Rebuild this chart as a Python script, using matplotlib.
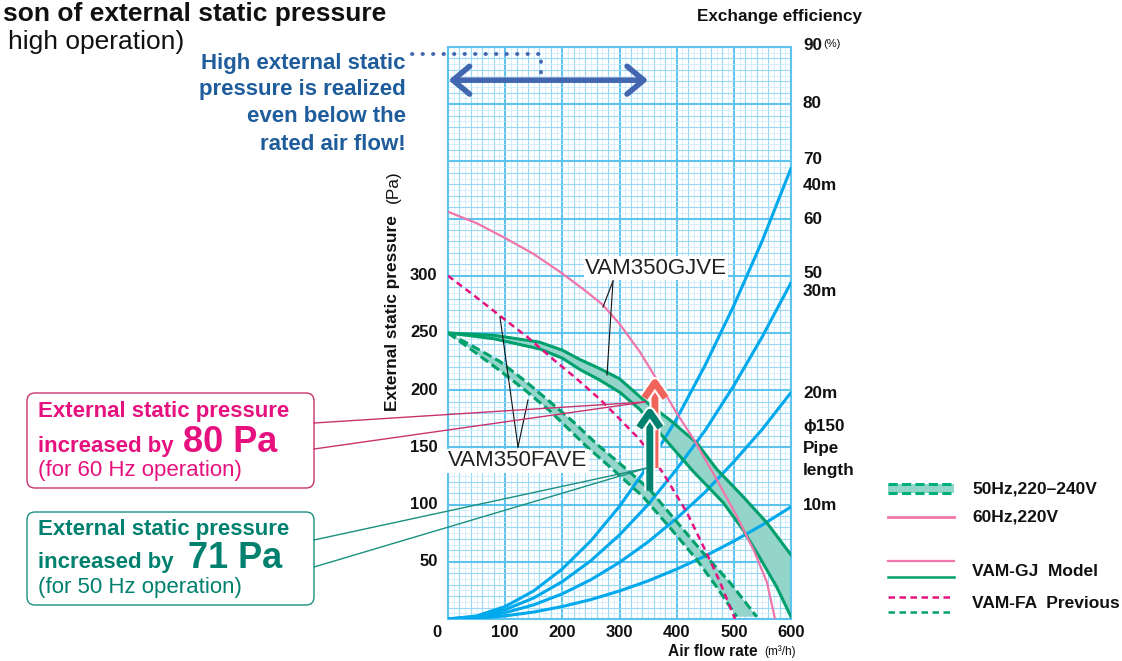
import matplotlib
matplotlib.use("Agg")
import matplotlib.pyplot as plt
from matplotlib.patches import FancyArrowPatch, FancyBboxPatch, Rectangle
import matplotlib.patheffects as pe

plt.rcParams['font.family'] = ['Liberation Sans', 'DejaVu Sans']

# ---- data -----------------------------------------------------------------
flow_ticks = [100, 200, 300, 400, 500, 600]
pressure_ticks = [50, 100, 150, 200, 250, 300]

# phi150 pipe resistance curves
pipe_q = [0, 50, 100, 150, 200, 250, 300, 350, 400, 450, 500, 550, 600]
pipe_40m = [0, 2.7, 10.9, 24.6, 43.8, 68.4, 98.5, 134, 175, 222, 274, 331, 394]
pipe_30m = [0, 2.0, 8.2, 18.4, 32.7, 51.0, 73.5, 100, 131, 165, 204, 247, 294]
pipe_20m = [0, 1.4, 5.5, 12.4, 22.0, 34.4, 49.5, 67.4, 88, 111, 137.5, 166, 198]
pipe_10m = [0, 0.7, 2.7, 6.1, 10.9, 17.0, 24.5, 33.3, 43.6, 55.1, 68.1, 82.3, 98]

# VAM350GJVE, 50Hz band (240V upper, 220V lower)
gj50_hi_q = [0, 80, 160, 200, 230, 265, 300, 341, 388, 435, 470, 516, 558, 600]
gj50_hi_p = [250, 248, 242, 235, 227, 219, 210, 192, 174, 154, 131, 107, 84, 56]
gj50_lo_q = [0, 80, 161, 200, 231, 265, 301, 336, 380, 429, 481, 516, 545, 575, 600]
gj50_lo_p = [250, 245, 236, 228, 218, 209, 198, 183, 157, 129, 102, 78, 54, 28, 2]
# VAM350GJVE, 60Hz
gj60_q = [0, 50, 100, 150, 200, 240, 270, 300, 335, 362, 400, 430, 470, 505,
          535, 558, 572]
gj60_p = [356, 346, 333, 319, 302, 287, 275, 258, 234, 212, 180, 157, 122, 90,
          60, 32, 0]

# VAM350FAVE, 50Hz band
fa50_hi_q = [0, 45, 91, 135, 178, 220, 260, 305, 353, 400, 446, 493, 540]
fa50_hi_p = [250, 238, 225, 208, 190, 172, 153, 134, 113, 85, 58, 32, 2]
fa50_lo_q = [0, 45, 91, 135, 178, 242, 290, 341, 388, 435, 470, 505]
fa50_lo_p = [250, 234, 217, 200, 182, 151, 130, 107, 80, 52, 28, 2]
# VAM350FAVE, 60Hz
fa60_q = [0, 45, 91, 140, 184, 225, 266, 300, 335, 360, 383, 418, 453, 476, 502]
fa60_p = [300, 283, 265, 246, 227, 210, 192, 175, 157, 140, 122, 93, 57, 32, 0]

# pressure gains at the rated point
gain60_q, gain60_p = 362, (132, 212)
gain50_q, gain50_p = 353, (112, 186)

# ---- colours ----------------------------------------------------------------
GRID_FINE = "#c6eafa"
GRID_MID = "#9bd8f4"
GRID_MAJOR = "#5ec4ee"
BLUE = "#00a8ec"
PINK = "#f176ab"
MAGENTA = "#e6117f"
GREEN = "#00a06c"
BAND = "#93d5cb"
RED = "#f0645c"
TEAL = "#00806e"
NAVY = "#1e5c9b"
ARROWBLUE = "#4266b0"
TXT = "#111111"

W, H = 1122, 661
fig = plt.figure(figsize=(W / 100, H / 100), dpi=100)
ax = fig.add_axes([448 / W, (H - 619) / H, 343 / W, 572 / H])
ax.set_xlim(0, 600)
ax.set_ylim(0, 500)

# graph-paper grid
for x in range(0, 601, 10):
    if x % 100 == 0:
        c, lw = GRID_MAJOR, 1.5
    elif x % 20 == 0:
        c, lw = GRID_MID, 0.8
    else:
        c, lw = GRID_FINE, 0.5
    ax.axvline(x, color=c, lw=lw, zorder=0)
for y in range(0, 501, 5):
    if y % 50 == 0:
        c, lw = GRID_MAJOR, 1.5
    elif y % 10 == 0:
        c, lw = GRID_MID, 0.8
    else:
        c, lw = GRID_FINE, 0.5
    ax.axhline(y, color=c, lw=lw, zorder=0)
for s in ax.spines.values():
    s.set_color(GRID_MAJOR)
    s.set_linewidth(1.5)
ax.set_xticks([])
ax.set_yticks([])

# bands
ax.fill(gj50_hi_q + gj50_lo_q[::-1], gj50_hi_p + gj50_lo_p[::-1],
        color=BAND, lw=0, zorder=2)
ax.fill(fa50_hi_q + fa50_lo_q[::-1], fa50_hi_p + fa50_lo_p[::-1],
        color=BAND, lw=0, zorder=2)

# pipe curves
for p in (pipe_40m, pipe_30m, pipe_20m, pipe_10m):
    ax.plot(pipe_q, p, color=BLUE, lw=2.2, zorder=3, solid_capstyle='round')

ax.plot(gj50_hi_q, gj50_hi_p, color=GREEN, lw=2.2, zorder=4)
ax.plot(gj50_lo_q, gj50_lo_p, color=GREEN, lw=2.2, zorder=4)
ax.plot(fa50_hi_q, fa50_hi_p, color=GREEN, lw=2.2, ls=(0, (3, 1.4)), zorder=4)
ax.plot(fa50_lo_q, fa50_lo_p, color=GREEN, lw=2.2, ls=(0, (3, 1.4)), zorder=4)
ax.plot(gj60_q, gj60_p, color=PINK, lw=1.6, zorder=4)
ax.plot(fa60_q, fa60_p, color=MAGENTA, lw=1.8, ls=(0, (2.6, 1.8)), zorder=4)

# gain arrows
white = [pe.Stroke(linewidth=8, foreground="white"), pe.Normal()]
for q, (p0, p1), col in ((gain60_q, gain60_p, RED), (gain50_q, gain50_p, TEAL)):
    a = FancyArrowPatch((q, p0), (q, p1),
                        arrowstyle="->,head_length=0.55,head_width=0.38",
                        mutation_scale=20, lw=5, color=col,
                        shrinkA=0, shrinkB=0, zorder=6, capstyle='butt')
    a.set_path_effects(white)
    ax.add_patch(a)

# double arrow + dotted guide at the top
ax.add_patch(FancyArrowPatch((1, 471), (350, 471),
                             arrowstyle="<->,head_length=0.6,head_width=0.5",
                             mutation_scale=20, lw=4, color=ARROWBLUE,
                             shrinkA=0, shrinkB=0, zorder=6))
ax.plot([-63, 163, 163], [494, 494, 470], color=ARROWBLUE, lw=2.8,
        ls=(0, (0.1, 2.6)), dash_capstyle='round', clip_on=False, zorder=6)

# tick labels
bold = dict(fontsize=12, fontweight='bold', color=TXT)
for v in pressure_ticks:
    ax.annotate(str(v), xy=(0, v), xycoords=('axes fraction', 'data'),
                xytext=(-7.5, 0), textcoords='offset points',
                ha='right', va='center', **bold)
for v in flow_ticks:
    ax.annotate(str(v), xy=(v, 0), xycoords=('data', 'axes fraction'),
                xytext=(0, -10), textcoords='offset points',
                ha='center', va='center', **bold)
ax.annotate("0", xy=(0, 0), xycoords='axes fraction', xytext=(-8, -10),
            textcoords='offset points', ha='center', va='center', **bold)

# ---- overlay in pixel coordinates for the text furniture -------------------
ov = fig.add_axes([0, 0, 1, 1], zorder=5)
ov.set_xlim(0, W)
ov.set_ylim(H, 0)
ov.axis('off')
ov.patch.set_alpha(0)

ov.text(3, 14, "son of external static pressure", fontsize=19,
        fontweight='bold', color=TXT, va='center')
ov.text(8, 42, "high operation)", fontsize=19, color=TXT, va='center')

for i, line in enumerate(["High external static", "pressure is realized",
                          "even below the", "rated air flow!"]):
    ov.text(406, 63 + 27 * i, line, fontsize=16, fontweight='bold',
            color=NAVY, ha='right', va='center')

ov.text(697, 16, "Exchange efficiency", fontsize=12.3, fontweight='bold',
        color=TXT, va='center')
right_labels = [("90", 45), ("80", 104), ("70", 160), ("40m", 186), ("60", 219),
                ("50", 274), ("30m", 292), ("20m", 393), ("ϕ150", 426),
                ("Pipe", 448), ("length", 470), ("10m", 505)]
for s, y in right_labels:
    ov.text(803, y, s, fontsize=12.3, fontweight='bold', color=TXT, va='center')
ov.text(823, 44, "(%)", fontsize=8, color=TXT, va='center')

ov.text(393, 411, "External static pressure", rotation=90,
        rotation_mode='anchor', ha='left', va='center', fontsize=12.4,
        fontweight='bold', color=TXT)
ov.text(393, 203, "(Pa)", rotation=90, rotation_mode='anchor', ha='left',
        va='center', fontsize=12.4, color=TXT)

ov.text(668, 651, "Air flow rate", fontsize=11.2, fontweight='bold',
        color=TXT, va='center')
ov.text(764, 652, "(m³/h)", fontsize=8.5, color=TXT, va='center')

# model labels with leader lines
lab = dict(fontsize=16, color="#222222", ha='center', va='center',
           bbox=dict(boxstyle='square,pad=0.05', fc='white', ec='none'))
ov.text(656, 268, "VAM350GJVE", **lab)
ov.text(518, 461, "VAM350FAVE", **lab)
for x0, y0, x1, y1 in [(613, 281, 603, 307), (613, 281, 607, 375),
                       (518, 447, 500, 317), (518, 447, 528, 400)]:
    ov.plot([x0, x1], [y0, y1], color=TXT, lw=0.8)

# callout boxes
callouts = [
    (393, 488, MAGENTA, "#c8336e", "80 Pa", "(for 60 Hz operation)",
     (417, 452, 476), [(314, 423), (314, 449)], (645, 402), 183),
    (512, 605, TEAL, "#1a9080", "71 Pa", "(for 50 Hz operation)",
     (535, 568, 593), [(314, 540), (314, 567)], (647, 468), 188),
]
for top, bot, tc, ec, big, sub, ys, starts, end, bx in callouts:
    ov.add_patch(FancyBboxPatch((30, top + 3), 281, bot - top - 6,
                                boxstyle='round,pad=3,rounding_size=8',
                                fc='white', ec=ec, lw=1.0))
    ov.text(38, ys[0], "External static pressure", fontsize=16,
            fontweight='bold', color=tc, va='baseline')
    ov.text(38, ys[1], "increased by", fontsize=16, fontweight='bold',
            color=tc, va='baseline')
    ov.text(bx, ys[1], big, fontsize=26, fontweight='bold', color=tc,
            va='baseline')
    ov.text(38, ys[2], sub, fontsize=16, color=tc, va='baseline')
    for sx, sy in starts:
        ov.plot([sx, end[0]], [sy, end[1]], color=ec, lw=1.0)

# legend
lx0, lx1, tx = 888, 954, 972
ov.add_patch(Rectangle((lx0, 484), lx1 - lx0, 9, fc=BAND, ec='none'))
for yy in (484, 493):
    ov.plot([lx0, lx1], [yy, yy], color="#00b07a", lw=2.2, ls=(0, (3, 1.4)))
ov.plot([lx0, lx1], [517, 517], color=PINK, lw=2.0)
ov.plot([lx0, lx1], [561, 561], color=PINK, lw=1.6)
ov.plot([lx0, lx1], [577, 577], color=GREEN, lw=1.8)
ov.plot([lx0, lx1], [597, 597], color=MAGENTA, lw=1.8, ls=(0, (2.6, 1.8)))
ov.plot([lx0, lx1], [612, 612], color=GREEN, lw=1.8, ls=(0, (2.6, 1.8)))
leg = dict(fontsize=12.5, fontweight='bold', color=TXT, va='center')
ov.text(tx, 489, "50Hz,220–240V", **leg)
ov.text(tx, 517, "60Hz,220V", **leg)
ov.text(tx, 572, "VAM-GJ  Model", **leg)
ov.text(tx, 604, "VAM-FA  Previous", **leg)

fig.savefig("out.png", dpi=100)
